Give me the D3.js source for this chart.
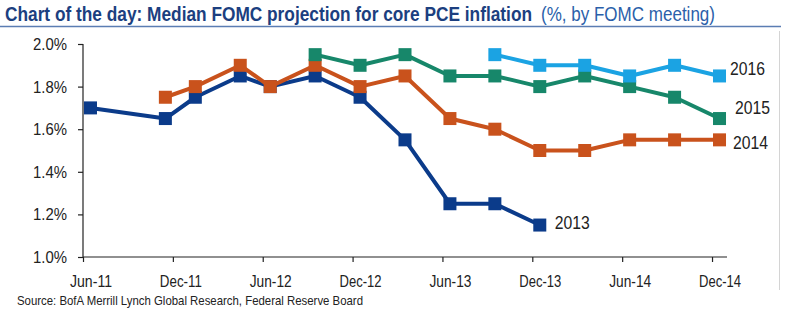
<!DOCTYPE html>
<html>
<head>
<meta charset="utf-8">
<script src="https://cdn.jsdelivr.net/npm/d3@7"></script>
<style>
  body { margin: 0; background: #fff; }
  svg { display: block; font-family: "Liberation Sans", Arial, sans-serif; }
  .tick text { fill: #222; }
</style>
</head>
<body>
<svg></svg>
<script>
// FOMC meetings with a projection (year-month)
const meetings = ["2011-06", "2011-11", "2012-01", "2012-04", "2012-06", "2012-09", "2012-12",
  "2013-03", "2013-06", "2013-09", "2013-12", "2014-03", "2014-06", "2014-09", "2014-12"];

// median core PCE projection by target year, one value per meeting
const proj2013 = [1.7, 1.65, 1.75, 1.85, 1.8, 1.85, 1.75, 1.55, 1.25, 1.25, 1.15, null, null, null, null];
const proj2014 = [null, 1.75, 1.8, 1.9, 1.8, 1.9, 1.8, 1.85, 1.65, 1.6, 1.5, 1.5, 1.55, 1.55, 1.55];
const proj2015 = [null, null, null, null, null, 1.95, 1.9, 1.95, 1.85, 1.85, 1.8, 1.85, 1.8, 1.75, 1.65];
const proj2016 = [null, null, null, null, null, null, null, null, null, 1.95, 1.9, 1.9, 1.85, 1.9, 1.85];

const seriesNames = ["2013", "2014", "2015", "2016"];
const seriesColors = ["#0b3b8a", "#c9521c", "#17876a", "#1ba3e3"];

const xTickLabels = ["Jun-11", "Dec-11", "Jun-12", "Dec-12", "Jun-13", "Dec-13", "Jun-14", "Dec-14"];
const yTicks = [1.0, 1.2, 1.4, 1.6, 1.8, 2.0];

const svg = d3.select("svg");
const width = 794, height = 332;
svg.attr("width", width).attr("height", height);

// months counted from Jun-11; each month is one slot on the axis
const monthIndex = (s) => {
  const [y, m] = s.split("-").map(Number);
  return (y - 2011) * 12 + (m - 6);
};

const xScale = d3.scaleLinear().domain([0, 43]).range([83, 727]);
const yScale = d3.scaleLinear().domain([1.0, 2.0]).range([257, 44]);
const slot = xScale(1) - xScale(0);

// title in two parts, squeezed to a narrow face
svg.append("text")
  .attr("x", 5).attr("y", 21)
  .attr("font-size", 21).attr("font-weight", "bold")
  .attr("fill", "#1c3f80")
  .attr("textLength", 527).attr("lengthAdjust", "spacingAndGlyphs")
  .text("Chart of the day: Median FOMC projection for core PCE inflation");
svg.append("text")
  .attr("x", 541).attr("y", 21)
  .attr("font-size", 21)
  .attr("fill", "#2b5faa")
  .attr("textLength", 174).attr("lengthAdjust", "spacingAndGlyphs")
  .text("(%, by FOMC meeting)");

svg.append("line")
  .attr("x1", 0).attr("x2", 781).attr("y1", 26.5).attr("y2", 26.5)
  .attr("stroke", "#5b7db3").attr("stroke-width", 1.5);

svg.append("line")
  .attr("x1", 779.5).attr("x2", 779.5).attr("y1", 31).attr("y2", 290)
  .attr("stroke", "#d4d4d4").attr("stroke-width", 1);

// axes
const xAxis = d3.axisBottom(xScale)
  .tickValues(d3.range(0, 43, 6))
  .tickSize(5)
  .tickPadding(13)
  .tickFormat((d, i) => xTickLabels[i]);

const xAxisG = svg.append("g")
  .attr("transform", "translate(0, 257)")
  .call(xAxis);
xAxisG.select(".domain").attr("d", `M${xScale(0)},0H${xScale(43)}`);
xAxisG.selectAll(".tick text")
  .attr("x", slot / 2)
  .attr("font-size", 17)
  .attr("textLength", 42).attr("lengthAdjust", "spacingAndGlyphs");

const yAxis = d3.axisLeft(yScale)
  .tickValues(yTicks)
  .tickSize(5)
  .tickPadding(11)
  .tickFormat((d) => d3.format(".1f")(d) + "%");

const yAxisG = svg.append("g")
  .attr("transform", `translate(${xScale(0)}, 0)`)
  .call(yAxis);
yAxisG.select(".domain").attr("d", `M0,${yScale(2.0)}V${yScale(1.0)}`);
yAxisG.selectAll(".tick text")
  .attr("font-size", 17)
  .attr("textLength", 34).attr("lengthAdjust", "spacingAndGlyphs");

svg.selectAll(".domain, .tick line").attr("stroke", "#222").attr("stroke-width", 1.2);

// series lines and square markers
const allSeries = [proj2013, proj2014, proj2015, proj2016].map((vals, k) => ({
  name: seriesNames[k],
  color: seriesColors[k],
  points: meetings
    .map((m, i) => ({ x: monthIndex(m) + 0.5, y: vals[i] }))
    .filter((p) => p.y !== null),
}));

const line = d3.line()
  .x((d) => xScale(d.x))
  .y((d) => yScale(d.y));

const seriesG = svg.append("g")
  .selectAll("g")
  .data(allSeries)
  .join("g");

seriesG.append("path")
  .attr("d", (d) => line(d.points))
  .attr("fill", "none")
  .attr("stroke", (d) => d.color)
  .attr("stroke-width", 4)
  .attr("stroke-linejoin", "round");

const box = 13;
seriesG.selectAll("rect")
  .data((d) => d.points.map((p) => ({ ...p, color: d.color })))
  .join("rect")
  .attr("x", (d) => xScale(d.x) - box / 2)
  .attr("y", (d) => yScale(d.y) - box / 2)
  .attr("width", box)
  .attr("height", box)
  .attr("fill", (d) => d.color);

// year labels next to last point
const labelOffsets = { "2013": [15, -2], "2014": [13.5, 3], "2015": [15.5, -10.5], "2016": [10.5, -7] };
seriesG.append("text")
  .attr("x", (d) => xScale(d.points[d.points.length - 1].x) + labelOffsets[d.name][0])
  .attr("y", (d) => yScale(d.points[d.points.length - 1].y) + labelOffsets[d.name][1])
  .attr("dy", "0.35em")
  .attr("font-size", 18)
  .attr("fill", "#222")
  .attr("textLength", 35).attr("lengthAdjust", "spacingAndGlyphs")
  .text((d) => d.name);

// source note
svg.append("text")
  .attr("x", 17).attr("y", 305)
  .attr("font-size", 13)
  .attr("fill", "#222")
  .attr("textLength", 346).attr("lengthAdjust", "spacingAndGlyphs")
  .text("Source: BofA Merrill Lynch Global Research, Federal Reserve Board");
</script>
</body>
</html>
